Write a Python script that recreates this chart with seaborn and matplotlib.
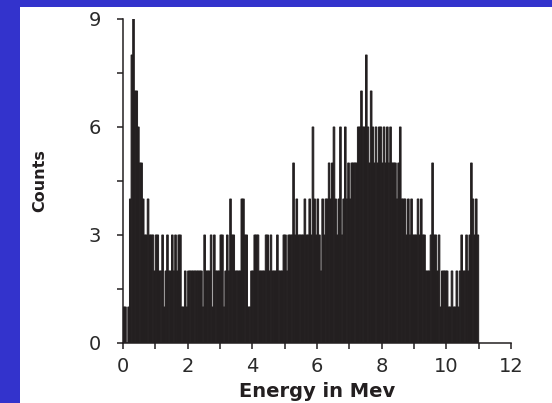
import numpy as np
import pandas as pd
import matplotlib
matplotlib.use("Agg")
import matplotlib.pyplot as plt
import seaborn as sns
from matplotlib.patches import Rectangle
from matplotlib.ticker import MultipleLocator

sns.set_style("ticks")
plt.rcParams['font.family'] = ['DejaVu Sans']

# counts per 0.05 MeV channel, one row per MeV (0 -> 11 MeV)
bin_width = 0.05
counts_0_1 = [1, 1, 0, 1, 4, 8, 9, 7, 7, 6, 5, 5, 4, 3, 3, 4, 3, 3, 3, 2]
counts_1_2 = [3, 3, 2, 2, 3, 1, 2, 3, 2, 2, 3, 2, 3, 2, 3, 3, 1, 1, 2, 1]
counts_2_3 = [2, 2, 2, 2, 2, 2, 2, 2, 2, 1, 3, 2, 2, 2, 3, 1, 3, 2, 2, 2]
counts_3_4 = [3, 3, 1, 2, 3, 2, 4, 3, 3, 2, 2, 2, 2, 4, 4, 3, 3, 1, 1, 2]
counts_4_5 = [2, 3, 3, 3, 2, 2, 2, 2, 3, 3, 2, 3, 2, 2, 2, 3, 2, 2, 2, 3]
counts_5_6 = [3, 2, 3, 3, 3, 5, 3, 4, 3, 3, 3, 3, 4, 3, 3, 4, 3, 6, 4, 3]
counts_6_7 = [4, 3, 2, 4, 3, 4, 4, 5, 4, 5, 6, 4, 3, 4, 6, 3, 4, 6, 4, 5]
counts_7_8 = [4, 5, 5, 5, 5, 6, 6, 7, 6, 6, 8, 6, 5, 7, 6, 5, 6, 5, 6, 6]
counts_8_9 = [5, 6, 5, 6, 5, 6, 5, 5, 5, 4, 5, 6, 4, 4, 4, 3, 4, 3, 4, 3]
counts_9_10 = [3, 3, 4, 3, 4, 3, 3, 2, 2, 2, 3, 5, 3, 3, 2, 3, 1, 2, 2, 2]
counts_10_11 = [2, 1, 1, 2, 1, 1, 2, 1, 2, 3, 2, 2, 3, 2, 3, 5, 4, 3, 4, 3]

x_ticks = [0, 2, 4, 6, 8, 10, 12]
y_ticks = [0, 3, 6, 9]

counts = (counts_0_1 + counts_1_2 + counts_2_3 + counts_3_4 + counts_4_5
          + counts_5_6 + counts_6_7 + counts_7_8 + counts_8_9
          + counts_9_10 + counts_10_11)
n_bins = len(counts)
df = pd.DataFrame({'energy': (np.arange(n_bins) + 0.5) * bin_width,
                   'counts': counts})

W, H = 552, 403
fig = plt.figure(figsize=(W / 100, H / 100), dpi=100, facecolor='#3333CC')
fig.add_artist(Rectangle((20 / W, 0), 1, (H - 7) / H, transform=fig.transFigure,
                         facecolor='white', edgecolor='none', zorder=-1))

ax = fig.add_axes([123 / W, 60 / H, 388 / W, 324 / H])
ax.patch.set_alpha(0)

# no pixel snapping + matching edge: channels stay flush, no seams
sns.histplot(data=df, x='energy', weights='counts', bins=n_bins,
             binrange=(0, n_bins * bin_width), color='#231f20',
             edgecolor='#231f20', alpha=1, linewidth=0.7, element='bars',
             snap=False, ax=ax)

ax.set_xlim(0, 12)
ax.set_ylim(0, 9)
sns.despine(ax=ax)
for s in ['left', 'bottom']:
    ax.spines[s].set_linewidth(1.1)
    ax.spines[s].set_color('#231f20')

ax.set_xticks(x_ticks)
ax.set_yticks(y_ticks)
ax.xaxis.set_minor_locator(MultipleLocator(1))
ax.yaxis.set_minor_locator(MultipleLocator(1.5))
ax.tick_params(which='both', direction='out', length=4, width=1.1, color='#231f20')
ax.tick_params(axis='x', labelsize=14, pad=6, labelcolor='#2a2a2a')
ax.tick_params(axis='y', labelsize=14, pad=12, labelcolor='#2a2a2a')

ax.set_xlabel('Energy in Mev', fontsize=14, fontweight='bold', color='#231f20')
ax.xaxis.set_label_coords(0.5, -0.12)
ax.set_ylabel('Counts', fontsize=11.5, fontweight='bold', color='#231f20')
ax.yaxis.set_label_coords(-0.196, 0.5)

fig.savefig('out.png', dpi=100, facecolor=fig.get_facecolor())
